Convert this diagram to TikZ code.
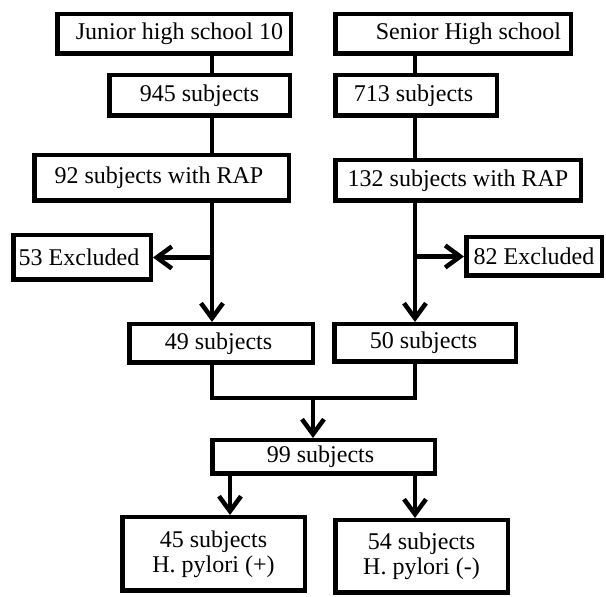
\documentclass[tikz,border=0pt]{standalone}
\usepackage{fontspec}
\setmainfont{Liberation Serif}
\usetikzlibrary{arrows.meta}
\begin{document}
\begin{tikzpicture}[x=0.5pt,y=-0.5pt, line width=2.25pt,
  box/.style={draw, rectangle, inner sep=0pt, font=\fontsize{12}{12.5}\selectfont, align=center},
  arr/.style={-{Straight Barb[length=7.5pt,width=11pt,line width=2.25pt]}}]
\useasboundingbox (0,0) rectangle (606,597);
% boxes
\node[box, minimum width=116.75pt, minimum height=19.75pt] (J) at (174,34) {\hspace*{5.5pt}Junior high school 10};
\node[box, minimum width=117.75pt, minimum height=19.75pt] (S) at (453,34) {\hspace*{15.5pt}Senior High school};
\node[box, minimum width=90.25pt, minimum height=20.25pt] (n945) at (199.5,95.5) {945 subjects};
\node[box, minimum width=80.75pt, minimum height=20.25pt] (n713) at (416,95.5) {\raisebox{1.5pt}{713 subjects}\hspace*{2.5pt}};
\node[box, minimum width=127.25pt, minimum height=22.75pt] (n92) at (161.5,178) {92 subjects with RAP\hspace*{2.5pt}};
\node[box, minimum width=122.75pt, minimum height=20.25pt] (n132) at (458,180.5) {132 subjects with RAP};
\node[box, minimum width=68.75pt, minimum height=22.25pt] (n53) at (82,257.5) {53 Excluded\hspace*{3pt}};
\node[box, minimum width=67.75pt, minimum height=19.25pt] (n82) at (534,256.5) {82 Excluded};
\node[box, minimum width=91.75pt, minimum height=19.25pt] (n49) at (221,343.5) {49 subjects\hspace*{2.5pt}};
\node[box, minimum width=90.75pt, minimum height=18.75pt] (n50) at (425,343) {50 subjects\hspace*{1.5pt}};
\node[box, minimum width=111.25pt, minimum height=16.75pt] (n99) at (323.5,457) {99 subjects\hspace*{3pt}};
\node[box, minimum width=91.25pt, minimum height=36.75pt] (n45) at (213.5,554) {45 subjects\\H. pylori (+)};
\node[box, minimum width=86.25pt, minimum height=36.25pt] (n54) at (421.5,556.5) {54 subjects\\H. pylori (-)};
% guide coordinates
\coordinate (xL) at (212,0);
\coordinate (xR) at (415,0);
\coordinate (xM) at (313,0);
\coordinate (x45) at (230,0);
\coordinate (yU) at (0,398);
% connectors
\draw (J.south -| xL) -- (n945.north -| xL);
\draw (n945.south -| xL) -- (n92.north -| xL);
\draw[arr] (n92.south -| xL) -- (n49.north -| xL);
\draw[arr] (xL |- n53.east) -- (n53.east);
\draw (S.south -| xR) -- (n713.north -| xR);
\draw (n713.south -| xR) -- (n132.north -| xR);
\draw[arr] (n132.south -| xR) -- (n50.north -| xR);
\draw[arr] (xR |- n82.west) -- (n82.west);
\draw (n49.south -| xL) -- (xL |- yU) -- (xR |- yU) -- (n50.south -| xR);
\draw[arr] (xM |- yU) -- (n99.north -| xM);
\draw[arr] (n99.south -| x45) -- (n45.north -| x45);
\draw[arr] (n99.south -| xR) -- (n54.north -| xR);
\end{tikzpicture}
\end{document}
